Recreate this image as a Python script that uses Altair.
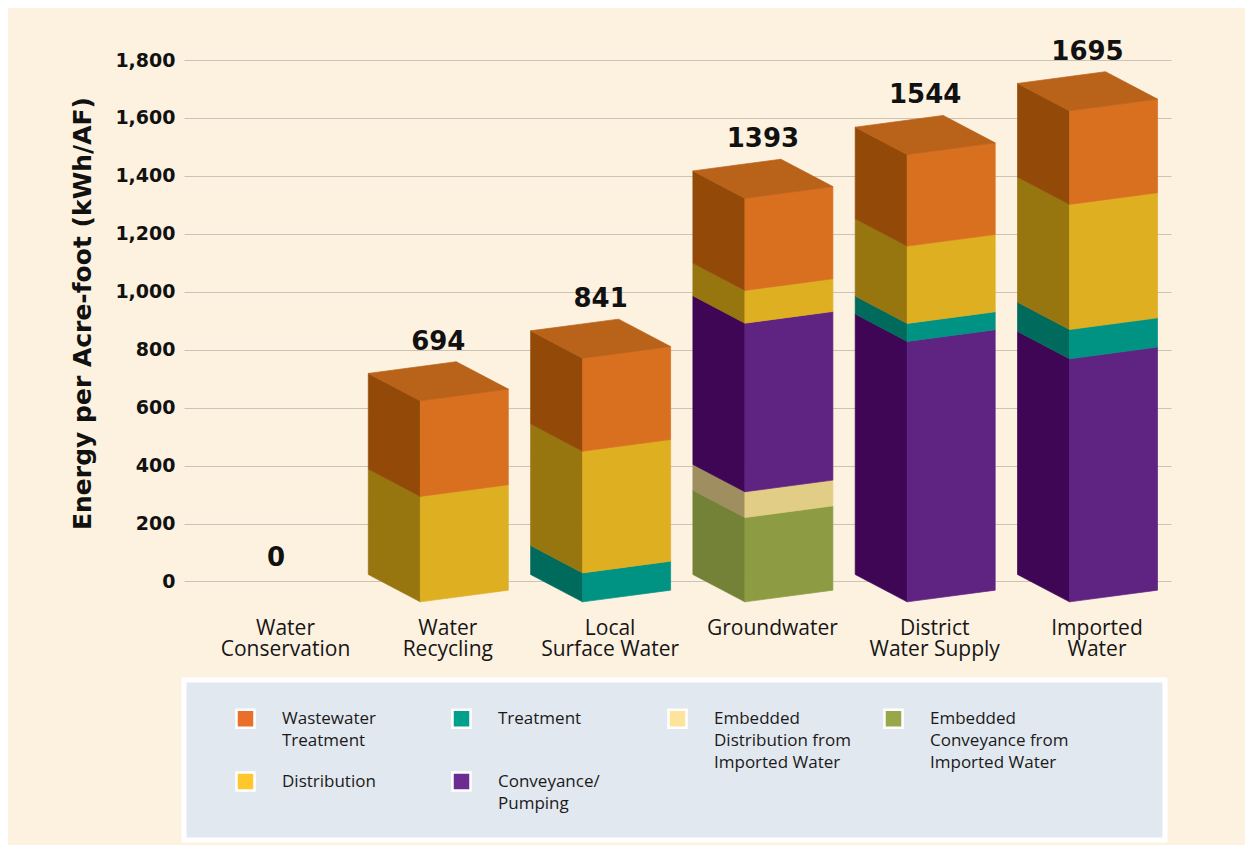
import altair as alt
import pandas as pd

# ---------------- data (kWh per acre-foot) ----------------
categories = ["Water Conservation", "Water Recycling", "Local Surface Water",
              "Groundwater", "District Water Supply", "Imported Water"]
category_lines = [["Water", "Conservation"], ["Water", "Recycling"], ["Local", "Surface Water"],
                  ["Groundwater"], ["District", "Water Supply"], ["Imported", "Water"]]
totals = [0, 694, 841, 1393, 1544, 1695]

# stack order, bottom -> top
components = ["Embedded Conveyance from Imported Water",
              "Embedded Distribution from Imported Water",
              "Conveyance/Pumping", "Treatment", "Distribution", "Wastewater Treatment"]
emb_conveyance = [0, 0, 0, 291, 0, 0]
emb_distribution = [0, 0, 0, 89, 0, 0]
conveyance = [0, 0, 0, 582, 899, 839]
treatment = [0, 0, 100, 0, 62, 101]
distribution = [0, 364, 420, 113, 267, 432]
wastewater = [0, 330, 321, 318, 316, 323]
stack_values = [emb_conveyance, emb_distribution, conveyance, treatment, distribution, wastewater]

front_colors = ["#8D9C42", "#E2CD87", "#5F2381", "#009282", "#DFAF22", "#D87020"]
side_colors = ["#738236", "#9E8E60", "#3F0655", "#006B5D", "#977610", "#934A08"]
top_color = "#B9621A"

legend_order = ["Wastewater Treatment", "Treatment",
                "Embedded Distribution from Imported Water",
                "Embedded Conveyance from Imported Water",
                "Distribution", "Conveyance/Pumping"]
legend_colors = ["#E96F2B", "#00A08C", "#FDE49A", "#98A74A", "#FFC72C", "#6B2D91"]
legend_lines = [["Wastewater", "Treatment", ""], ["Treatment", "", ""],
                ["Embedded", "Distribution from", "Imported Water"],
                ["Embedded", "Conveyance from", "Imported Water"],
                ["Distribution", ""], ["Conveyance/", "Pumping"]]

# ---------------- geometry / style constants ----------------
Y_MIN, Y_MAX = -95, 1800
PLOT_W, PLOT_H = 987, 549
PX = PLOT_H / (Y_MAX - Y_MIN)          # pixels per kWh/AF
X0, STEP, FW, DX = 74, 162.3, 88, 52   # x-scale units are pixels
DEPTH = 27.4 / PX                      # back edge raised (in value units)
SLOPE = 11.7 / PX                      # front face tilt (in value units)
BASE = -70.4                           # front-left bottom corner

rows = []
pid = [0]


def add(points, color):
    for x, lo, hi in points:
        rows.append({"x": x, "lo": lo, "hi": hi, "fill": color, "poly": pid[0]})
    pid[0] += 1


labels = []
for i, cat in enumerate(categories):
    fl = X0 + i * STEP
    b = BASE
    for k, vals in enumerate(stack_values):
        v = vals[i]
        if v <= 0:
            continue
        t = b + v
        add([(fl - DX, b + DEPTH, t + DEPTH), (fl, b, t)], side_colors[k])
        add([(fl, b, t), (fl + FW, b + SLOPE, t + SLOPE)], front_colors[k])
        b = t
    if totals[i] > 0:
        T = b
        add([(fl - DX, T + DEPTH, T + DEPTH),
             (fl, T, T + DEPTH + SLOPE * DX / FW),
             (fl - DX + FW, T + SLOPE * (FW - DX) / FW, T + DEPTH + SLOPE),
             (fl + FW, T + SLOPE, T + SLOPE)], top_color)
        ly = T + DEPTH + SLOPE + 12 / PX
    else:
        ly = 15 / PX
    labels.append({"x": fl + (FW - DX) / 2, "lo": ly, "label": str(totals[i])})

faces = pd.DataFrame(rows)
labels_df = pd.DataFrame(labels)
legend_df = pd.DataFrame({"component": legend_order, "x": [-500] * 6, "lo": [-500] * 6})

# ---------------- scales / axes ----------------
xs = alt.Scale(domain=[0, PLOT_W], nice=False, zero=False)
ys = alt.Scale(domain=[Y_MIN, Y_MAX], nice=False, zero=False)

cat_expr = "[" + ",".join("[" + ",".join("'%s'" % s for s in l) + "]" for l in category_lines) + "]"
x_axis = alt.Axis(values=[X0 + 27 + i * STEP for i in range(len(categories))],
                  labelExpr=f"{cat_expr}[round((datum.value - {X0 + 27}) / {STEP})]",
                  title=None, domain=False, ticks=False, grid=False,
                  labelFont="Open Sans", labelFontSize=21, labelLineHeight=21,
                  labelPadding=8, labelBaseline="top", labelColor="#161616",
                  labelOverlap=False, labelBound=False, labelFlush=False)
y_axis = alt.Axis(values=list(range(0, 1801, 200)), format=",d",
                  title="Energy per Acre-foot (kWh/AF)", titleFont="DejaVu Sans",
                  titleFontSize=25, titleFontWeight="bold", titleColor="#111111",
                  titlePadding=19, titleY=253,
                  labelFont="DejaVu Sans", labelFontWeight="bold", labelFontSize=19,
                  labelColor="#111111", labelPadding=9,
                  domain=False, ticks=False, grid=True, gridColor="#CCC3B6", gridWidth=1)

leg_expr = " : ".join(
    "datum.label == '%s' ? [%s]" % (n, ",".join("'%s'" % s for s in l))
    for n, l in zip(legend_order, legend_lines)) + " : datum.label"

bars = alt.Chart(faces).mark_area(interpolate="linear", strokeWidth=0.7).encode(
    x=alt.X("x:Q", scale=xs, axis=x_axis),
    y=alt.Y("lo:Q", scale=ys, axis=y_axis, stack=None),
    y2="hi:Q",
    fill=alt.Fill("fill:N", scale=None),
    stroke=alt.Stroke("fill:N", scale=None),
    detail="poly:N",
)

totals_text = alt.Chart(labels_df).mark_text(
    font="DejaVu Sans", fontWeight="bold", fontSize=26, baseline="alphabetic",
    align="center", color="#111111"
).encode(
    x=alt.X("x:Q", scale=xs, axis=x_axis),
    y=alt.Y("lo:Q", scale=ys, axis=y_axis),
    text="label:N",
)

legend_layer = alt.Chart(legend_df).mark_square(clip=True, size=100).encode(
    x=alt.X("x:Q", scale=xs, axis=x_axis),
    y=alt.Y("lo:Q", scale=ys, axis=y_axis),
    color=alt.Color("component:N",
                    scale=alt.Scale(domain=legend_order, range=legend_colors),
                    legend=alt.Legend(
                        title="\u00a0", titleOrient="right", titleFontSize=2,
                        titlePadding=68,
                        orient="none", legendX=0, legendY=620,
                        direction="horizontal", columns=4, gridAlign="all",
                        columnPadding=7, rowPadding=-6, padding=28,
                        fillColor="#E2E8EF", strokeColor="#FFFFFF",
                        symbolType="square", symbolSize=324, symbolOpacity=1,
                        symbolStrokeColor="#FFFFFF", symbolStrokeWidth=2.5,
                        symbolOffset=23, labelOffset=26,
                        labelFont="Open Sans", labelFontSize=17, labelColor="#1A1A1A",
                        labelLimit=400, labelExpr=leg_expr)),
)

chart = alt.layer(bars, totals_text, legend_layer).properties(
    width=PLOT_W, height=PLOT_H,
    autosize=alt.AutoSizeParams(type="none"),
    padding={"left": 176, "top": 52, "right": 1237 - 176 - PLOT_W, "bottom": 837 - 52 - PLOT_H},
    background="#FDF1E0",
).configure(
    view={"stroke": None},
    style={"guide-label": {"lineHeight": 22}},
    legend={"strokeWidth": 5},
)

chart.save("out.html", embed_options={"renderer": "svg", "actions": False})
